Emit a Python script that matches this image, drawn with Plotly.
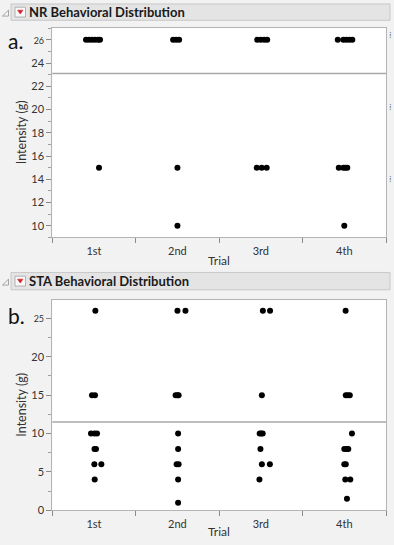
import plotly.graph_objects as go

trials = ["1st", "2nd", "3rd", "4th"]

# NR panel: intensity values (g) per trial, with horizontal jitter offsets
nr_1st = [26, 26, 26, 26, 26, 26, 15]
nr_2nd = [26, 26, 26, 15, 10]
nr_3rd = [26, 26, 26, 26, 15, 15, 15]
nr_4th = [26, 26, 26, 26, 26, 15, 15, 15, 15, 10]
nr_1st_jit = [-0.096, -0.06, -0.024, 0.012, 0.048, 0.072, 0.06]
nr_2nd_jit = [-0.052, -0.016, 0.02, 0.0, 0.0]
nr_3rd_jit = [-0.044, -0.002, 0.04, 0.076, -0.05, 0.01, 0.07]
nr_4th_jit = [-0.078, -0.012, 0.024, 0.06, 0.096, -0.066, -0.012, 0.012, 0.036, 0.0]

# STA panel
sta_1st = [26, 15, 15, 10, 10, 10, 8, 8, 6, 6, 4]
sta_2nd = [26, 26, 15, 15, 15, 10, 8, 6, 6, 4, 1]
sta_3rd = [26, 26, 15, 10, 10, 10, 8, 6, 6, 4]
sta_4th = [26, 15, 15, 15, 10, 8, 8, 8, 6, 6, 4, 4, 1.5]
sta_1st_jit = [0.016, -0.024, 0.012, -0.036, 0.006, 0.036, 0.006, 0.024, 0.004, 0.088, 0.008]
sta_2nd_jit = [0.0, 0.096, -0.022, 0.0, 0.014, 0.008, 0.008, -0.01, 0.014, 0.008, 0.008]
sta_3rd_jit = [0.024, 0.11, 0.012, -0.014, 0.004, 0.022, -0.005, 0.012, 0.108, -0.017]
sta_4th_jit = [0.016, 0.018, 0.042, 0.066, 0.092, 0.0, 0.03, 0.048, 0.0, 0.018, 0.012, 0.072, 0.032]

nr_ref = 23.1
sta_ref = 11.5

W, H = 394, 545
def px(x):
    return x / W
def py(y):
    return 1 - y / H

FONT = "Lato"
TXT = "#333333"

fig = go.Figure()

nr_sets = [(nr_1st, nr_1st_jit), (nr_2nd, nr_2nd_jit), (nr_3rd, nr_3rd_jit), (nr_4th, nr_4th_jit)]
sta_sets = [(sta_1st, sta_1st_jit), (sta_2nd, sta_2nd_jit), (sta_3rd, sta_3rd_jit), (sta_4th, sta_4th_jit)]

for i, (vals, jit) in enumerate(nr_sets):
    fig.add_trace(go.Scatter(x=[i + j for j in jit], y=vals, mode="markers",
                             marker=dict(color="black", size=6), xaxis="x", yaxis="y",
                             showlegend=False, hoverinfo="skip"))
for i, (vals, jit) in enumerate(sta_sets):
    fig.add_trace(go.Scatter(x=[i + j for j in jit], y=vals, mode="markers",
                             marker=dict(color="black", size=6), xaxis="x2", yaxis="y2",
                             showlegend=False, hoverinfo="skip"))

xl, xr = px(52.3), px(386)
a_top, a_bot = py(28.3), py(240)
b_top, b_bot = py(303.3), py(516)

axis_common = dict(showline=True, mirror=True, linecolor="#b4b4b4", linewidth=1,
                   showgrid=False, zeroline=False, tickfont=dict(family=FONT, size=11, color=TXT))

xaxis_cfg = dict(axis_common, range=[-0.5, 3.5], tickvals=[0, 1, 2, 3], ticktext=trials,
                 ticks="outside", ticklen=3, tickcolor="rgba(0,0,0,0)",
                 minor=dict(tick0=0.5, dtick=1, ticks="outside", ticklen=5, tickcolor="#8a8a8a"),
                 domain=[xl, xr])

fig.update_layout(
    width=W, height=H,
    margin=dict(l=0, r=0, t=0, b=0),
    paper_bgcolor="#f2f2f2",
    plot_bgcolor="white",
    xaxis=dict(xaxis_cfg, anchor="y"),
    yaxis=dict(axis_common, domain=[a_bot, a_top], range=[9, 27.02],
               tickvals=[10, 12, 14, 16, 18, 20, 22, 24, 26],
               ticktext=["10", "12", "14", "16", "18", "20", "22", "24",
                         '<span style="font-size:9px">26</span>'],
               ticks="outside", ticklen=5, tickcolor="#8a8a8a",
               minor=dict(dtick=1, tick0=9, ticks="outside", ticklen=3, tickcolor="#a0a0a0"),
               anchor="x"),
    xaxis2=dict(xaxis_cfg, anchor="y2"),
    yaxis2=dict(axis_common, domain=[b_bot, b_top], range=[0, 27.4],
                tickvals=[0, 5, 10, 15, 20, 25],
                ticktext=["0", "5", "10", "15", "20", '<span style="font-size:9px">25</span>'],
                ticks="outside", ticklen=5, tickcolor="#8a8a8a",
                minor=dict(dtick=2.5, tick0=0, ticks="outside", ticklen=3, tickcolor="#a0a0a0"),
                anchor="x2"),
)

shapes = []
annotations = []

# reference lines
shapes.append(dict(type="line", xref="x domain", yref="y", x0=0, x1=1, y0=nr_ref, y1=nr_ref,
                   line=dict(color="#a8a8a8", width=1.5)))
shapes.append(dict(type="line", xref="x2 domain", yref="y2", x0=0, x1=1, y0=sta_ref, y1=sta_ref,
                   line=dict(color="#a8a8a8", width=1.5)))

# title bars
for (ytop, ybot, title) in [(4, 20.5, "NR Behavioral Distribution"), (275.5, 293, "STA Behavioral Distribution")]:
    shapes.append(dict(type="rect", xref="paper", yref="paper", x0=px(11), x1=px(390),
                       y0=py(ybot), y1=py(ytop), fillcolor="#e4e4e4",
                       line=dict(color="#c8c8c8", width=1), layer="below"))
    yc = (ytop + ybot) / 2
    # dropdown box
    shapes.append(dict(type="rect", xref="paper", yref="paper", x0=px(15), x1=px(25.5),
                       y0=py(yc + 5), y1=py(yc - 5), fillcolor="#f8f8f8",
                       line=dict(color="#b0b0b0", width=1)))
    shapes.append(dict(type="path", xref="paper", yref="paper",
                       path=f"M {px(17.5)} {py(yc - 2)} L {px(23)} {py(yc - 2)} L {px(20.25)} {py(yc + 2)} Z",
                       fillcolor="#d0202a", line=dict(color="#d0202a", width=0.5)))
    # collapse triangle
    shapes.append(dict(type="path", xref="paper", yref="paper",
                       path=f"M {px(2.5)} {py(yc + 4)} L {px(8.5)} {py(yc + 4)} L {px(8.5)} {py(yc - 2)} Z",
                       fillcolor="#f4f4f4", line=dict(color="#909090", width=0.8)))
    annotations.append(dict(text=f"<b>{title}</b>", xref="paper", yref="paper", x=px(27), y=py(yc),
                            xanchor="left", yanchor="middle", showarrow=False,
                            font=dict(family=FONT, size=13, color="#1a1a1a")))

# panel letters
annotations.append(dict(text="a.", xref="paper", yref="paper", x=px(6), y=py(41), xanchor="left",
                        yanchor="middle", showarrow=False, font=dict(family=FONT, size=21, color="#111")))
annotations.append(dict(text="b.", xref="paper", yref="paper", x=px(6), y=py(319), xanchor="left",
                        yanchor="middle", showarrow=False, font=dict(family=FONT, size=21, color="#111")))

# axis titles
for (yc, ty) in [((28.3 + 240) / 2, 263), ((303.3 + 516) / 2, 537)]:
    annotations.append(dict(text="Intensity (g)", xref="paper", yref="paper", x=px(21.5), y=py(yc),
                            textangle=-90, showarrow=False, xanchor="center", yanchor="middle",
                            font=dict(family=FONT, size=12.5, color=TXT)))
    annotations.append(dict(text="Trial", xref="paper", yref="paper", x=px(219), y=py(ty),
                            showarrow=False, xanchor="center", yanchor="middle",
                            font=dict(family=FONT, size=12, color=TXT)))

# grip marks on the right of panel a
for yy in [36, 109, 181]:
    annotations.append(dict(text="⁞", xref="paper", yref="paper", x=px(390.5), y=py(yy),
                            showarrow=False, xanchor="center", yanchor="middle",
                            font=dict(family="DejaVu Sans", size=8, color="#707070")))

fig.update_layout(shapes=shapes, annotations=annotations)

fig.write_html("out.html", config={"displayModeBar": False},
               post_script="document.body.style.margin='0';document.body.style.padding='0';"
                           "document.body.style.overflow='hidden';")
